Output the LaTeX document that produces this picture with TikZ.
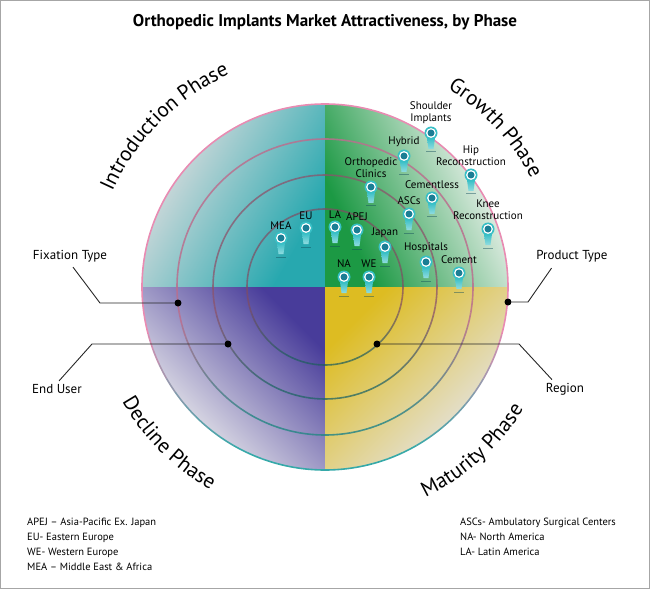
\documentclass[tikz,border=0pt]{standalone}
\usepackage{fontspec}
\setmainfont{PT Sans}
\usepackage{tikz}
\usetikzlibrary{positioning,decorations.text,fadings}

\definecolor{tealq}{HTML}{27A8AF}
\definecolor{tealrim}{HTML}{D6DBDC}
\definecolor{greenq}{HTML}{1C9944}
\definecolor{greenrim}{HTML}{F2F4F2}
\definecolor{purpq}{HTML}{483C9A}
\definecolor{purprim}{HTML}{E6E6EA}
\definecolor{yellq}{HTML}{DDBC22}
\definecolor{yellrim}{HTML}{E4E2DC}
\definecolor{ringpink}{HTML}{E98BB2}
\definecolor{ringteal}{HTML}{35A9A9}
\definecolor{pinteal}{HTML}{38BFC6}
\definecolor{pindark}{HTML}{1B7E95}

\newcommand\phasefont{\fontsize{21}{24}\selectfont}

\pgfdeclareradialshading{rimshade}{\pgfpointorigin}{color(0bp)=(pgftransparent!100); color(25bp)=(pgftransparent!100); color(50bp)=(pgftransparent!75)}
\pgfdeclarefading{rimfade}{\pgfuseshading{rimshade}}

\begin{document}
\begin{tikzpicture}[x=1pt,y=1pt,
  pinhead/.style={circle, fill=pinteal, inner sep=0pt, minimum size=13pt,
    path picture={\fill[white] (path picture bounding box.center) circle (4.9pt);
                  \fill[pindark] (path picture bounding box.center) circle (3.5pt);}},
  pinlbl/.style={inner sep=1pt, align=center, font={\fontsize{11}{12.5}\selectfont}},
  sidelbl/.style={inner sep=1pt, font={\fontsize{13}{15}\selectfont}},
  dot/.style={circle, fill=black, inner sep=0pt, minimum size=7pt},
  leader/.style={black!85, line width=0.9pt}]
\useasboundingbox (-325,-302) rectangle (325,287);

% quadrants
\begin{scope}
\clip (0,0) circle (183);
\foreach \qc/\qr/\qa/\qx/\qy in {tealq/tealrim/-120/-1/1, greenq/greenrim/115/1/1,
    purpq/purprim/-45/-1/-1, yellq/yellrim/45/1/-1}{
  \begin{scope}
  \clip (0,0) rectangle (\qx*183,\qy*183);
  \fill[\qc] (0,0) rectangle (\qx*183,\qy*183);
  \begin{scope}[transform canvas={rotate=\qa}]
  \shade[top color=\qc, bottom color=\qr] (-260,-200) rectangle (260,-45);
  \fill[\qr] (-260,-200) rectangle (260,-300);
  \end{scope}
  \end{scope}
}
\fill[white!92!gray, path fading=rimfade] (0,0) circle (183);
\end{scope}

% rings
\foreach \r/\d/\o in {78/55/0.7, 112/60/0.75, 148/80/0.85, 183/100/1}
  \foreach \a in {0,5,...,355}{
    \pgfmathtruncatemacro\m{max(0,min(100,(sin(\a+2.5)+0.9)*150))}
    \draw[line width=1.6pt, opacity=\o, color=ringpink!\m!ringteal!\d!black]
      (\a:\r) arc[start angle=\a, end angle=\a+5, radius=\r];
  }

% pins
\foreach \nm/\px/\py/\txt in {
  shoulder/106/154/{Shoulder\\Implants}, hybrid/79/131/Hybrid,
  clinics/46/100/{Orthopedic\\Clinics}, hip/146/112/{Hip\\Reconstruction},
  cementless/107/89/Cementless, ascs/84/73/ASCs,
  knee/163/58/{Knee\\Reconstruction}, mea/-44/49/MEA, eu/-19/59/EU,
  la/10/60/LA, apej/32/57/APEJ, japan/60/40/Japan,
  hospitals/101/25/Hospitals, cement/134/14/Cement, na/19/10/NA, we/44/10/WE}{
  \shade[top color=pinteal, bottom color=pinteal!55!white]
    (\px-4,\py-5) -- (\px-2.5,\py-16) -- (\px+2.5,\py-16) -- (\px+4,\py-5) -- cycle;
  \draw[pindark!60!black, opacity=0.45, line width=1pt] (\px-5,\py-19) -- (\px+5,\py-19);
  \node[pinhead] (\nm) at (\px,\py) {};
  \node[pinlbl, above=1pt of \nm] (\nm lbl) {\txt};
}

% dimension labels
\node[sidelbl] (fixlbl) at (-255,31) {Fixation Type};
\node[sidelbl] (prodlbl) at (247,31) {Product Type};
\node[sidelbl] (userlbl) at (-268,-102) {End User};
\node[sidelbl] (reglbl) at (240,-102) {Region};
\node[dot] (fixdot) at (-147,-16) {};
\node[dot] (proddot) at (183,-15) {};
\node[dot] (userdot) at (-97,-57) {};
\node[dot] (regdot) at (52,-57) {};
\coordinate (fixbend) at (-225,-16);
\coordinate (prodbend) at (203,-15);
\coordinate (userbend) at (-233,-57);
\coordinate (regbend) at (194,-57);
\draw[leader, shorten <=5pt] (fixlbl.south) -- (fixbend) -- (fixdot);
\draw[leader, shorten >=6pt] (proddot) -- (prodbend) -- ([xshift=-17pt]prodlbl.south);
\draw[leader, shorten >=3pt] (userdot) -- (userbend) -- (userlbl.north);
\draw[leader, shorten >=3pt] (regdot) -- (regbend) -- ([xshift=-11pt]reglbl.north);

% phases
\path[decorate, decoration={text along path, text align=center,
  text={|\phasefont|Introduction Phase}}] (157:233) arc[start angle=157, end angle=113, radius=233];
\path[decorate, decoration={text along path, text align=center,
  text={|\phasefont|Growth Phase}}] (65:233) arc[start angle=65, end angle=21, radius=233];
\path[decorate, decoration={text along path, text align=center,
  text={|\phasefont|Decline Phase}}] (203:233) arc[start angle=203, end angle=247, radius=233];
\path[decorate, decoration={text along path, text align=center,
  text={|\phasefont|Maturity Phase}}] (290:233) arc[start angle=290, end angle=334, radius=233];

% title and key
\node[font={\fontsize{17}{20}\selectfont\bfseries}] (title) at (0,265)
  {Orthopedic Implants Market Attractiveness, by Phase};
\node[anchor=north west, align=left, inner sep=0pt, font={\fontsize{10.5}{15}\selectfont}] (keyleft) at (-298,-231)
  {APEJ – Asia-Pacific Ex. Japan\\EU- Eastern Europe\\WE- Western Europe\\MEA – Middle East \& Africa};
\node[anchor=north west, align=left, inner sep=0pt, font={\fontsize{10.5}{15}\selectfont}] (keyright) at (135,-231)
  {ASCs- Ambulatory Surgical Centers\\NA- North America\\LA- Latin America};

\draw[gray!70, line width=1pt] (-324.5,-301.5) rectangle (324.5,286.5);
\end{tikzpicture}
\end{document}
